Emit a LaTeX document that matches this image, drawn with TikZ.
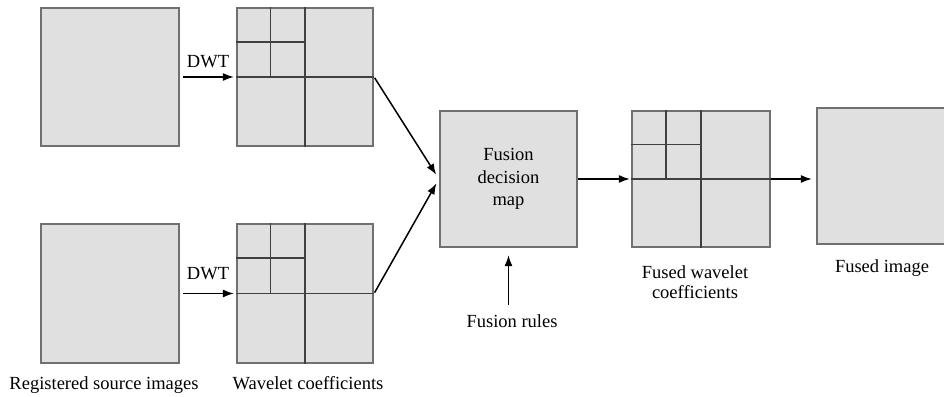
\documentclass[tikz,border=0pt]{standalone}
\usepackage{fontspec}
\setmainfont{Liberation Serif}
\usetikzlibrary{arrows.meta,calc}
\definecolor{boxfill}{HTML}{E0E0E0}
\definecolor{boxline}{HTML}{707070}
\definecolor{gridline}{HTML}{404040}
\begin{document}
\begin{tikzpicture}[x=1pt,y=-1pt,
  imgbox/.style={draw=boxline,line width=2.2pt,fill=boxfill,inner sep=0pt,minimum width=138pt,minimum height=138pt},
  grid/.style={draw=gridline,line width=1.7pt},
  arr/.style={-{Latex[length=11pt,width=8pt]},line width=1.5pt,black},
  lbl/.style={font=\fontsize{18.5}{22.5}\selectfont,inner sep=0pt,anchor=base}
]
\useasboundingbox (0,0) rectangle (944,396);
\clip (0,0) rectangle (944,396);
% boxes
\node[imgbox] (src1) at (110,77) {};
\node[imgbox,minimum width=136pt] (wav1) at (305,77) {};
\node[imgbox,minimum height=139pt] (src2) at (110,293.5) {};
\node[imgbox,minimum width=136pt,minimum height=139pt] (wav2) at (305,293.5) {};
\node[imgbox,minimum width=137pt,minimum height=136pt,font=\fontsize{18.5}{22.5}\selectfont,align=center] (fus) at (508.5,179) {Fusion\\decision\\map};
\node[imgbox,minimum height=136pt] (fwav) at (701,179) {};
\node[imgbox,minimum height=136pt] (fimg) at (886,176) {};
% wavelet grids
\foreach \w in {wav1,wav2,fwav}{
  \draw[grid] (\w.north) -- (\w.south);
  \draw[grid] (\w.west) -- (\w.east);
  \draw[grid] ($(\w.north west)!0.5!(\w.north)$) -- ($(\w.west)!0.5!(\w.center)$);
  \draw[grid] ($(\w.north west)!0.5!(\w.west)$) -- ($(\w.north)!0.5!(\w.center)$);
}
% labels
\node[lbl] (dwt1) at (208,67) {DWT};
\node[lbl] (dwt2) at (208,279) {DWT};
\node[lbl] (reg) at (104,389) {Registered source images};
\node[lbl] (wcoef) at (308,389) {Wavelet coefficients};
\node[lbl] (rules) at (512,327) {Fusion rules};
\node[lbl,anchor=north,align=center,font=\fontsize{18.5}{20.5}\selectfont] (fcoef) at (695,265) {Fused wavelet\\coefficients};
\node[lbl] (fimgl) at (882,272) {Fused image};
% connectors
\draw[arr,shorten <=3pt,shorten >=2pt] (src1) -- (wav1);
\draw[arr,shorten <=3pt,shorten >=2pt] (src2) -- (wav2);
\draw[arr,shorten <=1pt,shorten >=5pt] (wav1.east) -- (fus.west);
\draw[arr,shorten <=1pt,shorten >=5pt] (wav2.east) -- (fus.west);
\draw[arr,shorten <=9pt,shorten >=7pt] (fus.south |- rules.north) -- (fus.south);
\draw[arr,shorten >=1pt] (fus.east) -- (fwav.west);
\draw[arr,shorten >=4pt] (fwav.east) -- (fwav.east -| fimg.west);
\end{tikzpicture}
\end{document}
